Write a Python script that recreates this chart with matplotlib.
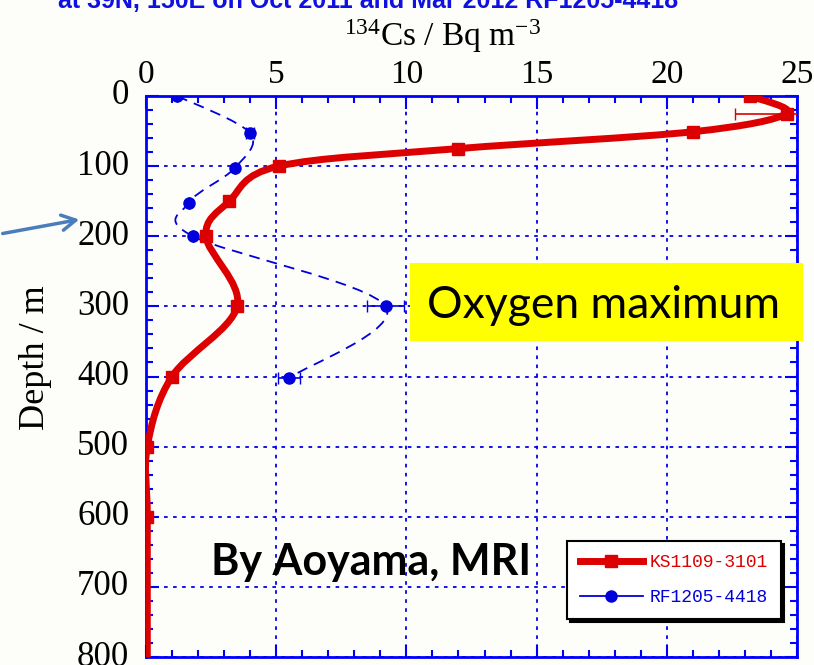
import numpy as np
import matplotlib
matplotlib.use('Agg')
import matplotlib.pyplot as plt
import matplotlib.transforms as mtransforms
from matplotlib.path import Path
from matplotlib.patches import PathPatch, Rectangle
from matplotlib.lines import Line2D
from matplotlib.ticker import MultipleLocator

# 134Cs profiles (Bq m-3) vs depth (m)
ks_depth = [0, 25, 51, 75, 100, 150, 200, 300, 400, 500, 600, 800]
ks_cs = [23.2, 24.6, 21.0, 12.0, 5.1, 3.2, 2.3, 3.5, 1.0, 0.05, 0.05, 0.05]
ks_err = [0, 2.0, 0, 0, 0, 0, 0, 0, 0, 0, 0, 0]
rf_depth = [0, 53, 103, 152, 200, 300, 402]
rf_cs = [1.2, 4.0, 3.4, 1.65, 1.8, 9.2, 5.5]
rf_err = [0, 0.15, 0, 0, 0, 0.7, 0.42]

RED = '#dd0000'
BLUE = '#0000dd'


def smooth_path(x, y):
    # Catmull-Rom curve through the points, as cubic bezier segments
    p = np.column_stack([x, y]).astype(float)
    ext = np.vstack([p[0], p, p[-1]])
    verts = [p[0]]
    codes = [Path.MOVETO]
    for i in range(1, len(ext) - 2):
        p0, p1, p2, p3 = ext[i - 1], ext[i], ext[i + 1], ext[i + 2]
        verts += [p1 + (p2 - p0) / 6, p2 - (p3 - p1) / 6, p2]
        codes += [Path.CURVE4] * 3
    return Path(verts, codes)


plt.rcParams['font.family'] = 'Liberation Serif'
plt.rcParams['mathtext.fontset'] = 'custom'
plt.rcParams['mathtext.rm'] = 'Liberation Serif'
plt.rcParams['mathtext.it'] = 'Liberation Serif:italic'
fig = plt.figure(figsize=(8.14, 6.65), dpi=100, facecolor='#fdfdfa')
ax = fig.add_axes([146 / 814, 8 / 665, 651 / 814, 561 / 665], facecolor='#fdfdfa')

ax.set_xlim(0, 25)
ax.set_ylim(800, 0)

# profiles
ax.add_patch(PathPatch(smooth_path(rf_cs, rf_depth), fill=False, edgecolor=BLUE,
                       lw=1.3, linestyle=(0, (6, 4)), zorder=3))
ax.errorbar(rf_cs, rf_depth, xerr=rf_err, fmt='o', color=BLUE, ms=8,
            elinewidth=1.2, capsize=4, zorder=4)
ax.add_patch(PathPatch(smooth_path(ks_cs, ks_depth), fill=False, edgecolor=RED,
                       lw=5, capstyle='round', joinstyle='round', zorder=5))
ax.errorbar(ks_cs[:-1], ks_depth[:-1], xerr=ks_err[:-1], fmt='s', color=RED, ms=9,
            elinewidth=1.2, capsize=4, zorder=6)

# axes styling
ax.xaxis.set_major_locator(MultipleLocator(5))
ax.xaxis.set_minor_locator(MultipleLocator(1))
ax.yaxis.set_major_locator(MultipleLocator(100))
ax.yaxis.set_minor_locator(MultipleLocator(20))
ax.tick_params(which='both', direction='in', top=True, right=True, bottom=True, left=True,
               labeltop=True, labelbottom=False, color='#0000ff', width=1.5)
ax.tick_params(which='major', length=9)
ax.tick_params(which='minor', length=5)
ax.tick_params(axis='x', labelsize=24, pad=4)
ax.tick_params(axis='y', labelsize=25, pad=12)
for s in ax.spines.values():
    s.set_color('#0000ff')
    s.set_linewidth(2)
ax.grid(which='major', color='#0000ee', linestyle=(0, (2, 3)), lw=1.3)
ax.set_axisbelow(True)

# depth labels sit a little above their grid lines
shift = mtransforms.ScaledTranslation(0, 4 / 100, fig.dpi_scale_trans)
for lab in ax.get_yticklabels():
    lab.set_transform(lab.get_transform() + shift)

ax.xaxis.set_label_position('top')
ax.set_xlabel(r'$^{134}$Cs / Bq m$^{-3}$', fontsize=24)
ax.xaxis.set_label_coords(0.456, (657 - 46) / 561)
ax.set_ylabel('Depth / m', fontsize=26)
ax.yaxis.set_label_coords(-0.1444, 1 - (358 - 96) / 561)

handles = [Line2D([], [], color=RED, lw=5, marker='s', ms=9),
           Line2D([], [], color=BLUE, lw=1.3, marker='o', ms=8)]
leg = ax.legend(handles, ['KS1109-3101', 'RF1205-4418'], loc='center',
                bbox_to_anchor=(0.811, 0.137), prop={'family': 'Liberation Mono', 'size': 13},
                labelcolor=[RED, BLUE], handlelength=3.5, fancybox=False,
                shadow={'color': 'black', 'alpha': 1}, framealpha=1, borderpad=0.7,
                labelspacing=1.0, handletextpad=0.4)
leg.get_frame().set_edgecolor('black')
leg.get_frame().set_linewidth(1.5)
leg.set_zorder(10)

# notes on the figure
fig.text(58 / 814, 1 - 8 / 665, 'at 39N, 150E on Oct 2011 and Mar 2012 RF1205-4418',
         color='#1010e0', fontsize=18, fontweight='bold', family='Liberation Sans',
         va='baseline', ha='left')
fig.add_artist(Rectangle((410 / 814, 1 - 341 / 665), 393 / 814, 78 / 665,
                         transform=fig.transFigure, facecolor='#ffff00', edgecolor='none',
                         zorder=20))
fig.text(0.7414, 1 - 318 / 665, 'Oxygen maximum', family='Lato', fontsize=32,
         ha='center', va='baseline', zorder=21)
fig.text(0.4564, 1 - 575 / 665, 'By Aoyama, MRI', family='Lato', fontweight='bold',
         fontsize=31, ha='center', va='baseline', zorder=21)
ax.annotate('', xy=(82 / 814, 1 - 219 / 665), xytext=(0, 1 - 234 / 665),
            xycoords='figure fraction', textcoords='figure fraction',
            arrowprops=dict(arrowstyle='->,head_length=1.0,head_width=0.55',
                            color='#4a7ebb', lw=2.5))

fig.savefig('out.png', dpi=100, facecolor=fig.get_facecolor())
